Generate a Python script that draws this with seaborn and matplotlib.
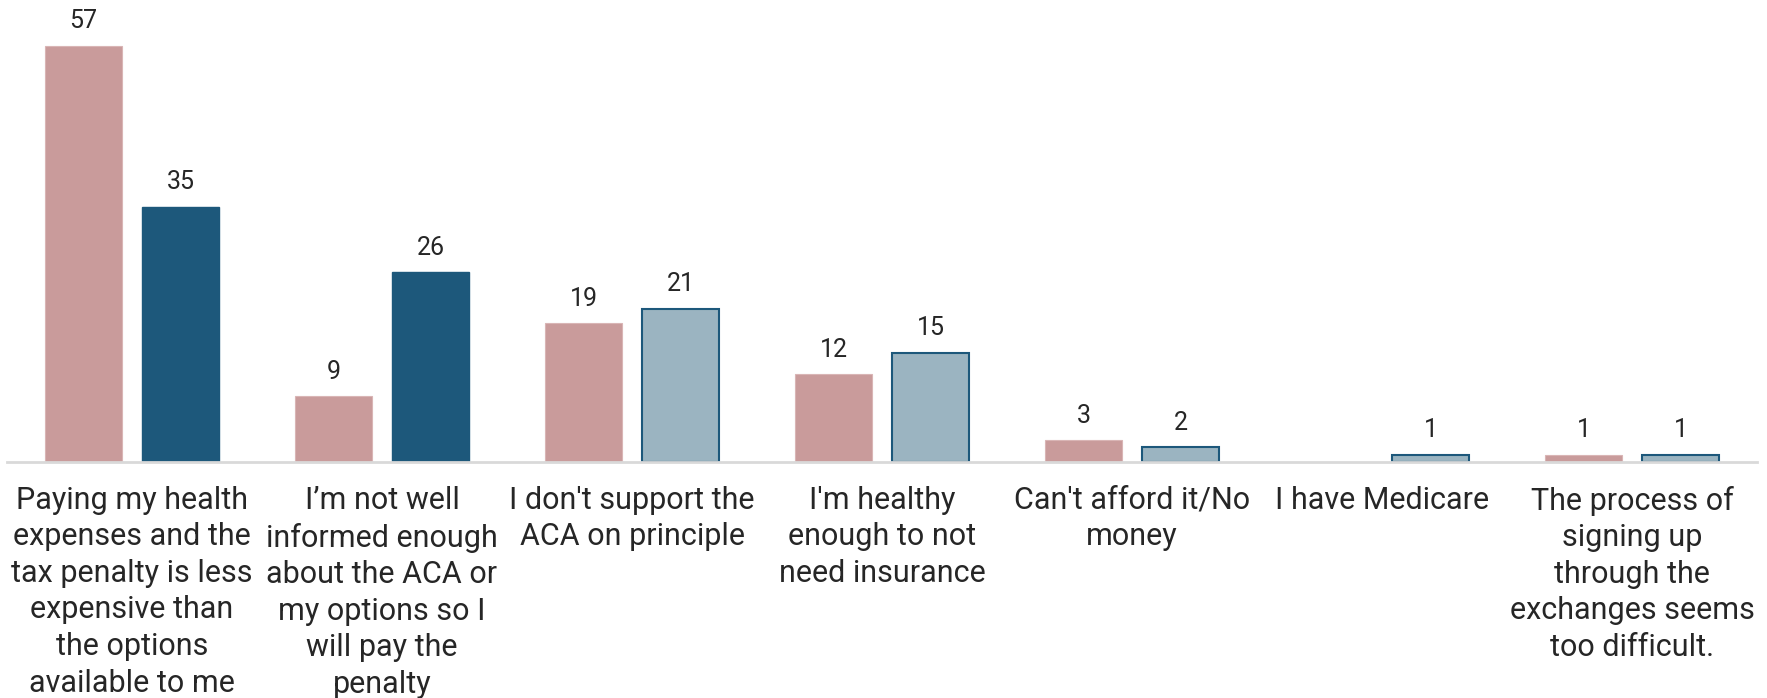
import numpy as np
import pandas as pd
import matplotlib
matplotlib.use("Agg")
import matplotlib.pyplot as plt
import seaborn as sns

categories = [
    "Paying my health\nexpenses and the\ntax penalty is less\nexpensive than\nthe options\navailable to me",
    "I\u2019m not well\ninformed enough\nabout the ACA or\nmy options so I\nwill pay the\npenalty",
    "I don't support the\nACA on principle",
    "I'm healthy\nenough to not\nneed insurance",
    "Can't afford it/No\nmoney",
    "I have Medicare",
    "The process of\nsigning up\nthrough the\nexchanges seems\ntoo difficult.",
]
series_names = ["Group A", "Group B"]
values_a = [57, 9, 19, 12, 3, np.nan, 1]
values_b = [35, 26, 21, 15, 2, 1, 1]

PINK = "#C99B9B"
DARK_BLUE = "#1D587B"
LIGHT_BLUE = "#9BB4C1"
TEXT = "#262626"

df = pd.DataFrame({
    "category": categories * 2,
    "series": [series_names[0]] * len(categories) + [series_names[1]] * len(categories),
    "value": values_a + values_b,
})

sns.set_theme(style="white")
plt.rcParams["font.family"] = ["Roboto", "DejaVu Sans"]

fig = plt.figure(figsize=(17.67, 6.98), dpi=100)
ax = fig.add_axes([7 / 1767, 236 / 698, 1750 / 1767, 462 / 698])

sns.barplot(
    data=df, x="category", y="value", hue="series",
    order=categories, hue_order=series_names,
    palette=[PINK, LIGHT_BLUE], width=0.776, gap=0.206,
    legend=False, ax=ax, saturation=1,
)

# second series: first two bars solid dark, the rest light with a dark outline
for i, patch in enumerate(ax.containers[1]):
    if i < 2:
        patch.set_facecolor(DARK_BLUE)
        patch.set_edgecolor(DARK_BLUE)
    else:
        patch.set_facecolor(LIGHT_BLUE)
        patch.set_edgecolor(DARK_BLUE)
        patch.set_linewidth(1.5)
for patch in ax.containers[0]:
    patch.set_edgecolor("#D9B5B5")
    patch.set_linewidth(0.8)

for cont in ax.containers:
    labels = ["" if np.isnan(v) else f"{v:.0f}" for v in cont.datavalues]
    ax.bar_label(cont, labels=labels, padding=9, fontsize=18, color=TEXT)

ax.set_ylim(0, 63.3)
ax.set_xlim(-0.5, len(categories) - 0.5)
ax.set_xlabel("")
ax.set_ylabel("")
ax.set_yticks([])
ax.tick_params(axis="x", length=0, pad=17, labelsize=22, colors=TEXT)
for lbl in ax.get_xticklabels():
    lbl.set_verticalalignment("top")
    lbl.set_multialignment("center")
    lbl.set_linespacing(1.33)

for side in ["top", "left", "right"]:
    ax.spines[side].set_visible(False)
ax.spines["bottom"].set_color("#D9D9D9")
ax.spines["bottom"].set_linewidth(2)

fig.savefig("out.png", dpi=100, facecolor="white")
